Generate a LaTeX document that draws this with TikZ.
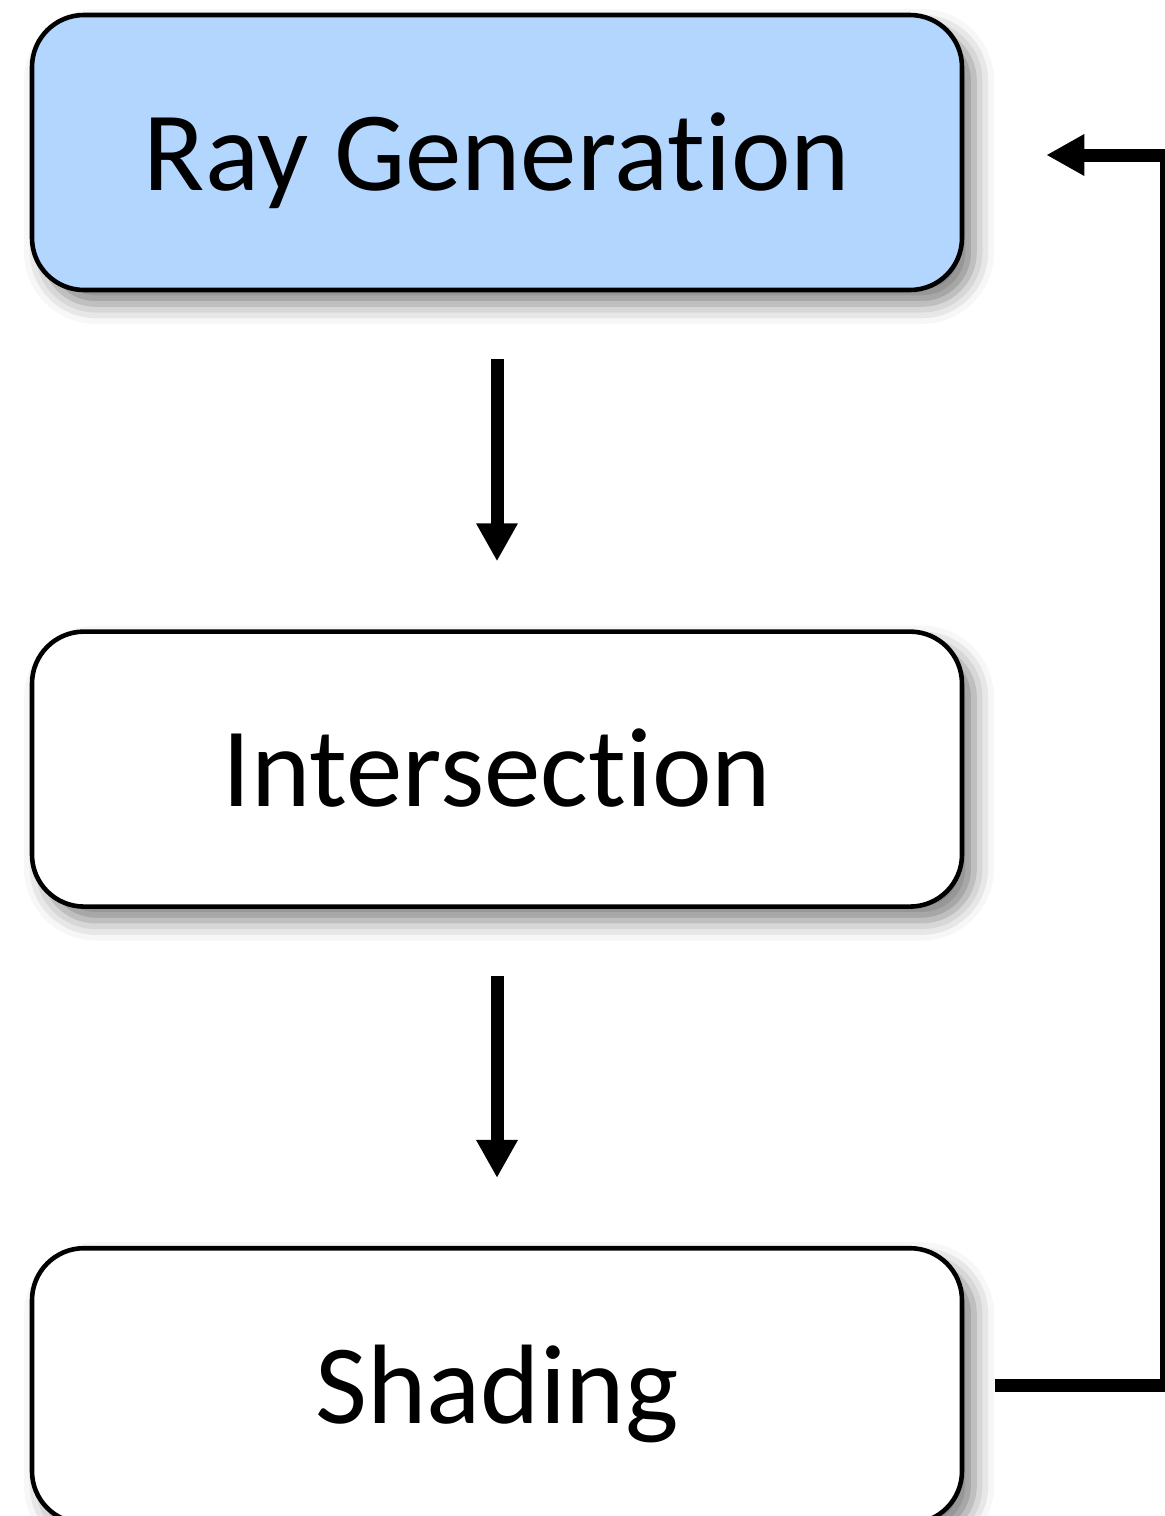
\documentclass[tikz,border=0pt]{standalone}
\usepackage{fontspec}
\setmainfont{Carlito}[Ligatures={NoCommon,NoRequired,NoContextual}]
\usetikzlibrary{positioning,arrows.meta,shadows.blur}

\definecolor{raygenblue}{RGB}{179,214,255}

\tikzset{
  stage/.style={draw=black, line width=2.3pt, rounded corners=26pt, fill=white,
    minimum width=465pt, minimum height=137.5pt,
    font=\fontsize{56.5}{62}\selectfont, text height=37.5pt, text depth=0pt,
    blur shadow={shadow xshift=6pt, shadow yshift=-7pt,
      shadow blur radius=10pt, shadow opacity=50}},
  flow/.style={line width=6.5pt, -{Triangle[width=19.5pt,length=19pt]}},
}

\begin{document}
\begin{tikzpicture}[x=0.5pt, y=-0.5pt, node distance=168.5pt]
\useasboundingbox (0,0) rectangle (1164,1516);

% the three stages of the pipeline
\node[stage, fill=raygenblue] (raygen) at (497,152.5) {Ray Generation};
\node[stage, below=of raygen] (inter) {Intersection};
\node[stage, below=of inter] (shade) {Shading};

\draw[flow, shorten <=33.5pt, shorten >=34pt] (raygen) -- (inter);
\draw[flow, shorten <=33.5pt, shorten >=34pt] (inter) -- (shade);

% back to ray generation
\coordinate (loop) at (1166,155);
\draw[flow] ([xshift=15.5pt]shade.east) -| (loop) -- ([xshift=41pt]raygen.east |- loop);

\end{tikzpicture}
\end{document}
